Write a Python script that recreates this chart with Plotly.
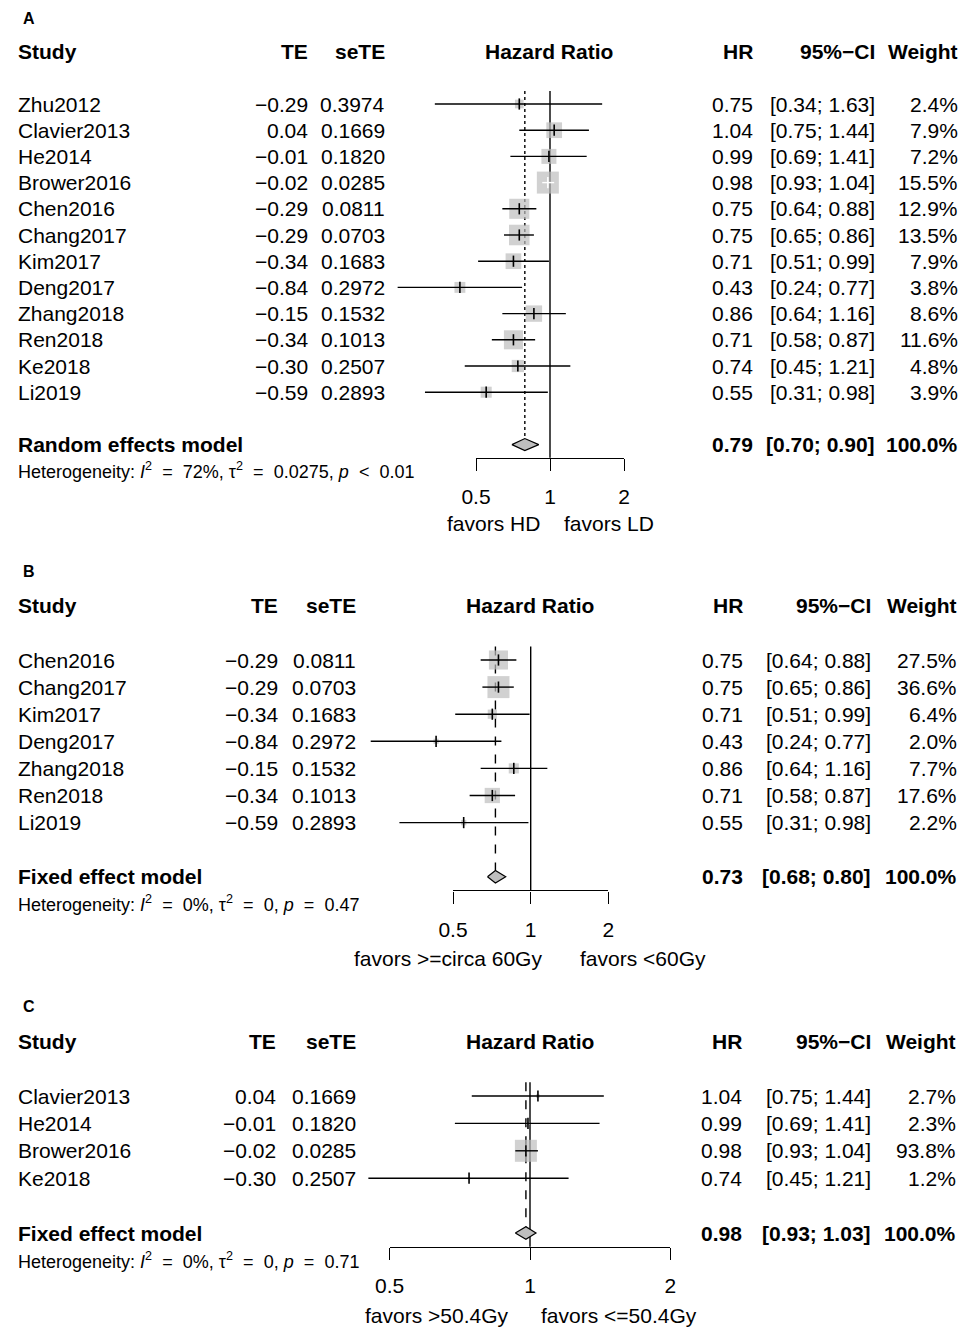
import numpy as np
import plotly.graph_objects as go

# ------------------------------
# Data
# ------------------------------

# Panel A: high dose vs low dose, random effects
studies_a = ["Zhu2012", "Clavier2013", "He2014", "Brower2016", "Chen2016", "Chang2017",
             "Kim2017", "Deng2017", "Zhang2018", "Ren2018", "Ke2018", "Li2019"]
te_a = [-0.29, 0.04, -0.01, -0.02, -0.29, -0.29, -0.34, -0.84, -0.15, -0.34, -0.30, -0.59]
sete_a = [0.3974, 0.1669, 0.1820, 0.0285, 0.0811, 0.0703, 0.1683, 0.2972, 0.1532, 0.1013, 0.2507, 0.2893]
hr_a = [0.75, 1.04, 0.99, 0.98, 0.75, 0.75, 0.71, 0.43, 0.86, 0.71, 0.74, 0.55]
lower_a = [0.34, 0.75, 0.69, 0.93, 0.64, 0.65, 0.51, 0.24, 0.64, 0.58, 0.45, 0.31]
upper_a = [1.63, 1.44, 1.41, 1.04, 0.88, 0.86, 0.99, 0.77, 1.16, 0.87, 1.21, 0.98]
weight_a = [2.4, 7.9, 7.2, 15.5, 12.9, 13.5, 7.9, 3.8, 8.6, 11.6, 4.8, 3.9]
summary_a = [0.79, 0.70, 0.90]
model_a = "Random effects model"
het_a = ["<i>I</i><sup>2</sup>", "72%", "τ<sup>2</sup>", "0.0275", "<i>p</i>", "0.01"]
het_ops_a = ["=", "=", "&lt;"]
favors_a = ["favors HD", "favors LD"]

# Panel B: >= circa 60Gy vs < 60Gy, fixed effect
studies_b = ["Chen2016", "Chang2017", "Kim2017", "Deng2017", "Zhang2018", "Ren2018", "Li2019"]
te_b = [-0.29, -0.29, -0.34, -0.84, -0.15, -0.34, -0.59]
sete_b = [0.0811, 0.0703, 0.1683, 0.2972, 0.1532, 0.1013, 0.2893]
hr_b = [0.75, 0.75, 0.71, 0.43, 0.86, 0.71, 0.55]
lower_b = [0.64, 0.65, 0.51, 0.24, 0.64, 0.58, 0.31]
upper_b = [0.88, 0.86, 0.99, 0.77, 1.16, 0.87, 0.98]
weight_b = [27.5, 36.6, 6.4, 2.0, 7.7, 17.6, 2.2]
summary_b = [0.73, 0.68, 0.80]
model_b = "Fixed effect model"
het_b = ["<i>I</i><sup>2</sup>", "0%", "τ<sup>2</sup>", "0", "<i>p</i>", "0.47"]
het_ops_b = ["=", "=", "="]
favors_b = ["favors &gt;=circa 60Gy", "favors &lt;60Gy"]

# Panel C: > 50.4Gy vs <= 50.4Gy, fixed effect
studies_c = ["Clavier2013", "He2014", "Brower2016", "Ke2018"]
te_c = [0.04, -0.01, -0.02, -0.30]
sete_c = [0.1669, 0.1820, 0.0285, 0.2507]
hr_c = [1.04, 0.99, 0.98, 0.74]
lower_c = [0.75, 0.69, 0.93, 0.45]
upper_c = [1.44, 1.41, 1.04, 1.21]
weight_c = [2.7, 2.3, 93.8, 1.2]
summary_c = [0.98, 0.93, 1.03]
model_c = "Fixed effect model"
het_c = ["<i>I</i><sup>2</sup>", "0%", "τ<sup>2</sup>", "0", "<i>p</i>", "0.71"]
het_ops_c = ["=", "=", "="]
favors_c = ["favors &gt;50.4Gy", "favors &lt;=50.4Gy"]

tick_vals = [0.5, 1, 2]
tick_text = ["0.5", "1", "2"]
headers = ["Study", "TE", "seTE", "Hazard Ratio", "HR", "95%\u2212CI", "Weight"]

# ------------------------------
# Look
# ------------------------------

PAGE_W, PAGE_H = 970, 1339
OFF = 8  # default body margin of the page the figure sits in
W, H = PAGE_W - OFF, PAGE_H - OFF
FONT = "Liberation Sans, Arial, Helvetica, sans-serif"
box_color = "#bebebe"
line_w = 1.4
MINUS = "\u2212"
GAP = "\u2009\u200a"  # plotmath puts extra room round relations

# page geometry of each panel (pixels of the 970x1339 page)
geo_a = dict(x1=550, scale=74, row0=104, step=26.2, top=OFF, bottom=540,
             te=310, sete=387, hz=549, hr=755, ci=877, wt=960, fav=(493, 609))
geo_b = dict(x1=530.7, scale=77.7, row0=660, step=27.1, top=545, bottom=975,
             te=280, sete=358, hz=530, hr=745, ci=873, wt=959, fav=(447.5, 642.5))
geo_c = dict(x1=530, scale=140.3, row0=1096, step=27.4, top=985, bottom=PAGE_H,
             te=278, sete=358, hz=530, hr=744, ci=873, wt=958, fav=(436, 619))


def _px(xpx):
    return (xpx - OFF) / W


def _py(ypx):
    return 1 - (ypx - OFF) / H


def _num(v, fmt):
    return fmt.format(v).replace("-", MINUS)


def _het_text(parts, ops):
    pieces = [f"{parts[2 * i]}{GAP} {ops[i]} {GAP}{parts[2 * i + 1]}" for i in range(3)]
    return "Heterogeneity: " + ", ".join(pieces)


def _txt(text, xpx, yref, row, anchor="right", bold=False, size=21):
    if bold:
        text = "<b>" + text + "</b>"
    return dict(text=text, x=_px(xpx), xref="paper", y=row, yref=yref,
                xanchor=anchor, yanchor="middle", showarrow=False,
                font=dict(size=size, family=FONT, color="black"))


def add_panel(fig, k, letter, studies, te, sete, hr, lower, upper, weight,
              summary, model, het, het_ops, favors, dash, geo):
    xa = "x" if k == 1 else f"x{k}"
    ya = "y" if k == 1 else f"y{k}"
    xfree = f"x{k + 3}"
    n = len(studies)
    rows = np.arange(n)
    s_row = n + 1
    ax_row = n + 1.5
    dh = 0.23

    # axis set-up: data axis spans whole width, log scale
    per_dec = geo["scale"] / np.log10(2)
    r0 = (OFF - geo["x1"]) / per_dec
    r1 = (PAGE_W - geo["x1"]) / per_dec
    y_lo = (geo["bottom"] - geo["row0"]) / geo["step"]
    y_hi = (geo["top"] - geo["row0"]) / geo["step"]
    axis_px = geo["row0"] + geo["step"] * ax_row
    sfx = "" if k == 1 else str(k)
    fig.update_layout({
        f"xaxis{sfx}": dict(type="log", range=[r0, r1], domain=[0, 1], visible=False,
                            anchor=ya, automargin=False),
        f"yaxis{sfx}": dict(range=[y_lo, y_hi], visible=False, anchor=xa, automargin=False,
                            domain=[_py(geo["bottom"]), _py(geo["top"])]),
        f"xaxis{k + 3}": dict(
            type="log", range=[np.log10(0.5), np.log10(2)],
            domain=[_px(geo["x1"] - geo["scale"]), _px(geo["x1"] + geo["scale"])],
            anchor="free", position=_py(axis_px), automargin=False,
            showline=True, linecolor="black", linewidth=line_w,
            ticks="outside", ticklen=12, tickwidth=line_w, tickcolor="black",
            tickvals=tick_vals, ticktext=tick_text, ticklabelstandoff=8,
            tickfont=dict(size=21, family=FONT, color="black"),
            showgrid=False, zeroline=False,
        ),
    })

    # reference line at HR = 1
    fig.add_trace(go.Scatter(x=[1, 1], y=[-0.5, ax_row], xaxis=xa, yaxis=ya, mode="lines",
                             line=dict(color="black", width=line_w), hoverinfo="skip"))
    # pooled estimate line
    fig.add_trace(go.Scatter(x=[summary[0]] * 2, y=[-0.5, s_row - dh], xaxis=xa, yaxis=ya,
                             mode="lines", line=dict(color="black", width=line_w, dash=dash),
                             hoverinfo="skip"))

    # squares, area proportional to weight
    sizes = 22 * np.sqrt(np.array(weight) / max(weight))
    fig.add_trace(go.Scatter(x=hr, y=rows, xaxis=xa, yaxis=ya, mode="markers",
                             marker=dict(symbol="square", size=sizes, color=box_color,
                                         line=dict(width=0)), hoverinfo="skip"))

    # confidence intervals (white when fully inside the square)
    ci_px = geo["scale"] * (np.log2(upper) - np.log2(lower))
    inside = ci_px < sizes
    for flag, col in [(False, "black"), (True, "white")]:
        xs, ys = [], []
        for i in range(n):
            if inside[i] == flag:
                xs += [lower[i], upper[i], None]
                ys += [i, i, None]
        if xs:
            fig.add_trace(go.Scatter(x=xs, y=ys, xaxis=xa, yaxis=ya, mode="lines",
                                     line=dict(color=col, width=line_w), hoverinfo="skip"))
    fig.add_trace(go.Scatter(x=hr, y=rows, xaxis=xa, yaxis=ya, mode="markers",
                             marker=dict(symbol="line-ns", size=8,
                                         line=dict(width=1.6,
                                                   color=["white" if f else "black" for f in inside])),
                             hoverinfo="skip"))

    # diamond for the pooled estimate
    est, lo, hi = summary
    fig.add_trace(go.Scatter(x=[lo, est, hi, est, lo], y=[s_row, s_row - dh, s_row, s_row + dh, s_row],
                             xaxis=xa, yaxis=ya, mode="lines", fill="toself", fillcolor=box_color,
                             line=dict(color="black", width=1.2), hoverinfo="skip"))

    # invisible point so the free tick axis is drawn
    fig.add_trace(go.Scatter(x=[1], y=[ax_row], xaxis=xfree, yaxis=ya, mode="markers",
                             marker=dict(opacity=0), hoverinfo="skip"))

    # text columns
    ann = [_txt(letter, 21, ya, -3.25, "left", True, 16)]
    hdr_x = [(16, "left"), (geo["te"], "right"), (geo["sete"], "right"), (geo["hz"], "center"),
             (geo["hr"], "right"), (geo["ci"], "right"), (geo["wt"], "right")]
    for h, (xp, anc) in zip(headers, hdr_x):
        ann.append(_txt(h, xp, ya, -2, anc, True))
    for i in range(n):
        ann.append(_txt(studies[i], 16, ya, i, "left"))
        ann.append(_txt(_num(te[i], "{:.2f}"), geo["te"], ya, i))
        ann.append(_txt(_num(sete[i], "{:.4f}"), geo["sete"], ya, i))
        ann.append(_txt(_num(hr[i], "{:.2f}"), geo["hr"], ya, i))
        ann.append(_txt(f"[{lower[i]:.2f}; {upper[i]:.2f}]", geo["ci"], ya, i))
        ann.append(_txt(f"{weight[i]:.1f}%", geo["wt"], ya, i))
    ann.append(_txt(model, 16, ya, s_row, "left", True))
    ann.append(_txt(f"{est:.2f}", geo["hr"], ya, s_row, bold=True))
    ann.append(_txt(f"[{lo:.2f}; {hi:.2f}]", geo["ci"], ya, s_row, bold=True))
    ann.append(_txt("100.0%", geo["wt"], ya, s_row, bold=True))
    ann.append(_txt(_het_text(het, het_ops), 16, ya, s_row + 1, "left", size=18))
    ann.append(_txt(favors[0], geo["fav"][0], ya, n + 4, "center"))
    ann.append(_txt(favors[1], geo["fav"][1], ya, n + 4, "center"))
    return ann


fig = go.Figure()
annotations = []
annotations += add_panel(fig, 1, "A", studies_a, te_a, sete_a, hr_a, lower_a, upper_a, weight_a,
                         summary_a, model_a, het_a, het_ops_a, favors_a, "dot", geo_a)
annotations += add_panel(fig, 2, "B", studies_b, te_b, sete_b, hr_b, lower_b, upper_b, weight_b,
                         summary_b, model_b, het_b, het_ops_b, favors_b, "dash", geo_b)
annotations += add_panel(fig, 3, "C", studies_c, te_c, sete_c, hr_c, lower_c, upper_c, weight_c,
                         summary_c, model_c, het_c, het_ops_c, favors_c, "dash", geo_c)

fig.update_layout(
    width=W,
    height=H,
    margin=dict(l=0, r=0, t=0, b=0, pad=0),
    showlegend=False,
    plot_bgcolor="rgba(0,0,0,0)",
    paper_bgcolor="white",
    font=dict(family=FONT, color="black"),
    annotations=annotations,
)

fig.write_html("out.html")
